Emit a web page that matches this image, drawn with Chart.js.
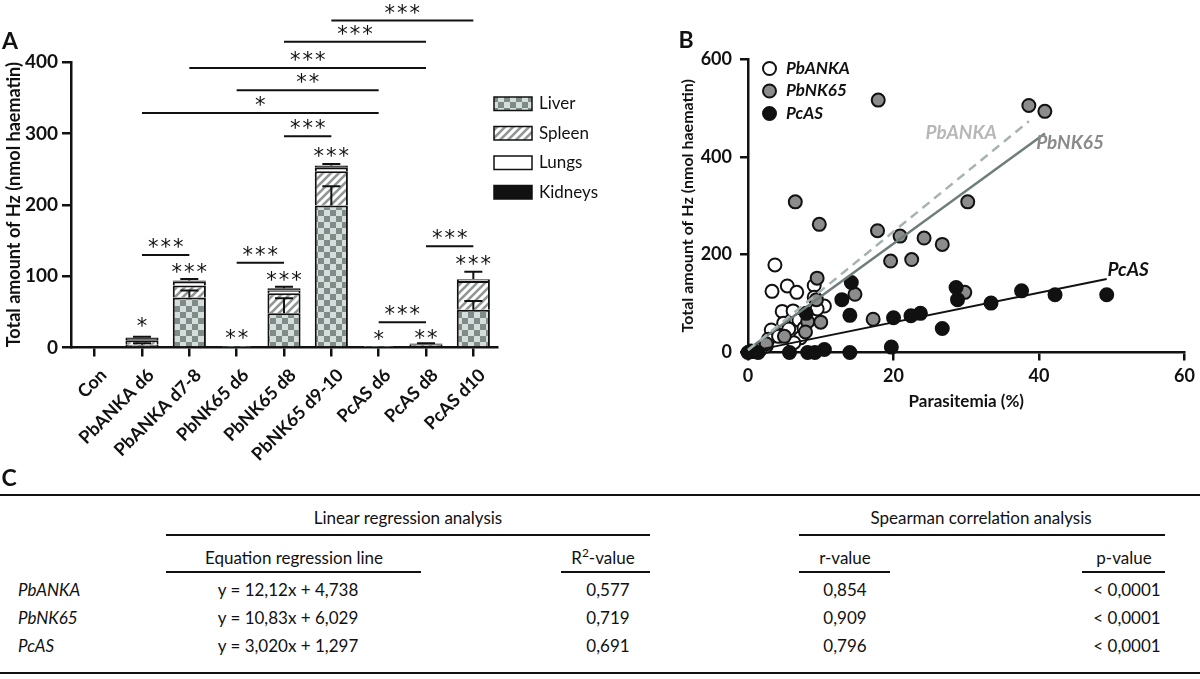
<!DOCTYPE html>
<html>
<head>
<meta charset="utf-8">
<title>Hz content and parasitemia</title>
<script src="https://cdn.jsdelivr.net/npm/chart.js@4.4.1/dist/chart.umd.min.js"></script>
<style>
  body { margin: 0; width: 1200px; height: 679px; background: #fff; position: relative; overflow: hidden;
         font-family: Lato, "Open Sans", sans-serif; color: #111; }
  #boxA { position: absolute; left: 0; top: 0; width: 660px; height: 470px; }
  #boxB { position: absolute; left: 660px; top: 0; width: 540px; height: 470px; }
  .t { position: absolute; line-height: 1; white-space: nowrap; transform: translate(-50%, -50%); font-size: 17px; }
  .l { transform: translate(0, -50%); }
  .letter { font-weight: bold; font-size: 23px; }
  .rule { position: absolute; background: #111; }
  sup { font-size: 0.7em; vertical-align: 0.55em; line-height: 0; }
</style>
</head>
<body>
<div id="boxA"><canvas id="chartA"></canvas></div>
<div id="boxB"><canvas id="chartB"></canvas></div>
<div class="t letter" style="left:10px;top:40px">A</div>
<div class="t letter" style="left:686px;top:39px">B</div>
<div class="t letter" style="left:9px;top:477px">C</div>
<div id="table"></div>

<script>
// ---- panel A : haemozoin per organ ----
const groups = ['Con', 'PbANKA d6', 'PbANKA d7-8', 'PbNK65 d6', 'PbNK65 d8', 'PbNK65 d9-10', 'PcAS d6', 'PcAS d8', 'PcAS d10'];
const organs = ['Liver', 'Spleen', 'Lungs', 'Kidneys'];
const liver   = [0, 4, 70, 0.4, 48, 199, 0.2, 2, 53];
const spleen  = [0, 6, 17, 0.3, 28, 48, 0.1, 1.5, 40];
const lungs   = [0, 2, 5, 0.2, 4, 5, 0.1, 0.5, 2];
const kidneys = [0, 2, 2, 0.3, 3, 3, 0.1, 1.5, 1];
const liverErr   = [0, 2, 10, 0, 21, 27, 0, 0, 12];
const kidneysErr = [0, 1, 2, 0, 2, 2, 0, 0.5, 10];
const yTicksA = [0, 100, 200, 300, 400];

// stars above single bars
const starText  = ['', '*', '***', '**', '***', '***', '*', '**', '***'];
const starLevel = [0, 36, 111, 19, 100, 274, 17.5, 19, 122];
// comparison brackets
const sigFrom  = [5, 4, 2, 3, 1, 4, 1, 3, 6, 7];
const sigTo    = [8, 7, 7, 6, 6, 5, 2, 4, 7, 8];
const sigText  = ['***', '***', '***', '**', '*', '***', '***', '***', '***', '***'];
const sigLevel = [458, 428.5, 391.6, 360.4, 328.6, 296, 129.5, 118.7, 35.3, 142];

// ---- panel B : Hz vs parasitemia ----
const strains = ['PbANKA', 'PbNK65', 'PcAS'];
const pbankaX = [3.7, 3.3, 5.4, 6.7, 9.1, 9.1, 10.5, 4.7, 6.2, 9.5, 4.9, 7.0, 3.2, 5.6, 7.7, 2.8, 4.2, 7.2, 2.5, 1.7, 0.5, 6.3];
const pbankaY = [179, 125, 136, 123, 137, 113, 95, 84, 85, 89, 60, 66, 46, 48, 50, 27, 33, 30, 13, 6, 2, 20];
const pbnk65X = [17.9, 38.6, 40.8, 6.5, 9.8, 30.2, 17.8, 20.9, 24.2, 26.7, 19.6, 22.5, 9.5, 14.7, 29.8, 17.2, 9.4, 8.2, 10.0, 7.9, 5.0, 2.5, 0.4];
const pbnk65Y = [516, 505, 493, 308, 262, 308, 249, 238, 234, 221, 187, 190, 152, 119, 123, 68, 108, 63, 62, 42, 33, 18, 3];
const pcasX = [0, 0.6, 1.4, 5.7, 8.2, 9.2, 10.5, 14.0, 19.7, 8.0, 12.9, 14.2, 14.0, 20.0, 22.4, 23.7, 26.7, 28.6, 28.8, 33.4, 37.6, 42.2, 49.3];
const pcasY = [0, 2, 0, 0, 0, 0, 6, 0, 11, 80, 108, 143, 76, 71, 75, 80, 49, 133, 108, 101, 126, 118, 118];
const xTicksB = [0, 20, 40, 60];
const yTicksB = [0, 200, 400, 600];

// ---- panel C : table ----
const slopeText     = ['12,12', '10,83', '3,020'];
const interceptText = ['4,738', '6,029', '1,297'];
const r2Values = ['0,577', '0,719', '0,691'];
const rValues  = ['0,854', '0,909', '0,796'];
const pValues  = ['< 0,0001', '< 0,0001', '< 0,0001'];
const lineStart = [0, 0, 0];
const lineEnd   = [38.6, 40.8, 49.3];

const num = s => parseFloat(s.replace(',', '.'));

Chart.defaults.font.family = 'Lato, "Open Sans", sans-serif';
Chart.defaults.color = '#111';
Chart.defaults.animation = false;

function makeChecker() {
  const c = document.createElement('canvas');
  c.width = c.height = 12;
  const g = c.getContext('2d');
  g.fillStyle = '#d5dedb';
  g.fillRect(0, 0, 12, 12);
  g.fillStyle = '#7e8b88';
  g.fillRect(0, 0, 6, 6);
  g.fillRect(6, 6, 6, 6);
  return g.createPattern(c, 'repeat');
}
function makeHatch() {
  const c = document.createElement('canvas');
  c.width = c.height = 8;
  const g = c.getContext('2d');
  g.fillStyle = '#fff';
  g.fillRect(0, 0, 8, 8);
  g.strokeStyle = '#8f9694';
  g.lineWidth = 2.6;
  [[-4, 4, 4, -4], [0, 8, 8, 0], [4, 12, 12, 4]].forEach(([a, b, c2, d]) => {
    g.beginPath(); g.moveTo(a, b); g.lineTo(c2, d); g.stroke();
  });
  return g.createPattern(c, 'repeat');
}
const fills = [makeChecker(), makeHatch(), '#ffffff', '#111111'];
const organData = [liver, spleen, lungs, kidneys];
const organErr = [liverErr, null, null, kidneysErr];

function drawStars(ctx, text, cx, cy) {
  ctx.font = '21px "DejaVu Sans"';
  ctx.textAlign = 'center';
  ctx.textBaseline = 'alphabetic';
  const m = ctx.measureText('*');
  const base = cy + (m.actualBoundingBoxAscent - m.actualBoundingBoxDescent) / 2;
  const n = text.length;
  for (let k = 0; k < n; k++) ctx.fillText('*', cx + (k - (n - 1) / 2) * 12.5, base);
}

const errorBars = {
  id: 'errorBars',
  afterDatasetsDraw(chart) {
    const { ctx } = chart;
    const y = chart.scales.y;
    ctx.save();
    ctx.strokeStyle = '#111';
    ctx.lineWidth = 2;
    chart.data.datasets.forEach((ds, i) => {
      if (!ds.errors) return;
      chart.getDatasetMeta(i).data.forEach((bar, j) => {
        const err = ds.errors[j];
        if (!err) return;
        let top = 0;
        for (let k = 0; k <= i; k++) top += chart.data.datasets[k].data[j];
        const y0 = y.getPixelForValue(top), y1 = y.getPixelForValue(top + err);
        ctx.beginPath();
        ctx.moveTo(bar.x, y0); ctx.lineTo(bar.x, y1);
        ctx.moveTo(bar.x - 9, y1); ctx.lineTo(bar.x + 9, y1);
        ctx.stroke();
      });
    });
    ctx.restore();
  }
};

const annotationsA = {
  id: 'annotationsA',
  afterDraw(chart) {
    const { ctx } = chart;
    const x = chart.scales.x, y = chart.scales.y;
    ctx.save();
    ctx.fillStyle = '#111';
    ctx.strokeStyle = '#111';
    ctx.lineWidth = 2;
    sigFrom.forEach((f, i) => {
      const x0 = x.getPixelForTick(f), x1 = x.getPixelForTick(sigTo[i]);
      const yy = y.getPixelForValue(sigLevel[i]);
      ctx.beginPath(); ctx.moveTo(x0, yy); ctx.lineTo(x1, yy); ctx.stroke();
      drawStars(ctx, sigText[i], (x0 + x1) / 2, yy - 12);
    });
    starText.forEach((s, j) => {
      if (s) drawStars(ctx, s, x.getPixelForTick(j), y.getPixelForValue(starLevel[j]));
    });
    // legend
    organs.forEach((name, i) => {
      const top = 97 + i * 29.5;
      ctx.fillStyle = fills[i];
      ctx.fillRect(494, top, 38, 13.5);
      ctx.lineWidth = 1.5;
      ctx.strokeRect(494, top, 38, 13.5);
      ctx.fillStyle = '#111';
      ctx.font = '17px Lato';
      ctx.textAlign = 'left';
      ctx.textBaseline = 'middle';
      ctx.fillText(name, 539, top + 7);
    });
    ctx.restore();
  }
};

new Chart(document.getElementById('chartA'), {
  type: 'bar',
  data: {
    labels: groups,
    datasets: organs.map((name, i) => ({
      label: name,
      data: organData[i],
      errors: organErr[i],
      backgroundColor: fills[i],
      borderColor: '#111',
      borderWidth: 2,
      barPercentage: 0.7,
      categoryPercentage: 1
    }))
  },
  options: {
    responsive: true,
    maintainAspectRatio: false,
    layout: { padding: { left: 0, top: 62, right: 163, bottom: 0 } },
    plugins: { legend: { display: false }, tooltip: { enabled: false } },
    scales: {
      x: {
        stacked: true,
        offset: true,
        grid: { offset: false, drawOnChartArea: false, color: '#111', lineWidth: 2.5, tickLength: 9 },
        border: { color: '#111', width: 2.5 },
        ticks: { autoSkip: false, minRotation: 45, maxRotation: 45, padding: 8, labelOffset: 9, font: { size: 18, weight: 'bold' } },
        afterFit: s => { s.height = 122.5; }
      },
      y: {
        stacked: true,
        min: 0, max: 400,
        afterBuildTicks: s => { s.ticks = yTicksA.map(v => ({ value: v })); },
        grid: { drawOnChartArea: false, color: '#111', lineWidth: 2.5, tickLength: 9 },
        border: { color: '#111', width: 2.5 },
        ticks: { padding: 4, font: { size: 19, weight: 'bold' } },
        title: { display: true, text: 'Total amount of Hz (nmol haematin)', font: { size: 18, weight: 'bold' }, padding: { top: 3, bottom: 0 } },
        afterFit: s => { s.width = 71; }
      }
    }
  },
  plugins: [errorBars, annotationsA]
});

// ---- panel B ----
const lineColors = ['#a7b3b3', '#6f7d7b', '#111111'];
const labelColors = ['#b7b7b7', '#8a8a8a', '#111111'];
const pointFills = ['#ffffff', '#8c8c8c', '#111111'];
const labelPos = [[24.4, 449], [39.6, 428.6], [49.4, 168.5]];

const pts = (xs, ys) => xs.map((x, i) => ({ x, y: ys[i] }));
const scatterSets = [[pbankaX, pbankaY], [pbnk65X, pbnk65Y], [pcasX, pcasY]].map(([xs, ys], i) => ({
  type: 'scatter',
  label: strains[i],
  data: pts(xs, ys),
  backgroundColor: pointFills[i],
  borderColor: '#111',
  borderWidth: 2,
  pointRadius: 6.5,
  clip: false,
  order: 3 - i
}));
const fitSets = strains.map((name, i) => ({
  type: 'line',
  label: name + ' regression',
  data: [lineStart[i], lineEnd[i]].map(x => ({ x, y: num(slopeText[i]) * x + num(interceptText[i]) })),
  borderColor: lineColors[i],
  borderWidth: i === 2 ? 2 : 2.5,
  borderDash: i === 0 ? [9, 6] : [],
  pointRadius: 0,
  fill: false,
  clip: false,
  order: 0
}));

const annotationsB = {
  id: 'annotationsB',
  afterDraw(chart) {
    const { ctx } = chart;
    const x = chart.scales.x, y = chart.scales.y;
    ctx.save();
    ctx.textAlign = 'left';
    ctx.textBaseline = 'middle';
    strains.forEach((name, i) => {
      // legend
      const cy = 68.5 + i * 22.5;
      ctx.beginPath();
      ctx.arc(109.5, cy, 6.5, 0, Math.PI * 2);
      ctx.fillStyle = pointFills[i];
      ctx.fill();
      ctx.lineWidth = 2;
      ctx.strokeStyle = '#111';
      ctx.stroke();
      ctx.fillStyle = '#111';
      ctx.font = 'italic bold 17px Lato';
      ctx.fillText(name, 126, cy);
      // line labels
      ctx.fillStyle = labelColors[i];
      ctx.font = 'italic bold 19px Lato';
      ctx.fillText(name, x.getPixelForValue(labelPos[i][0]), y.getPixelForValue(labelPos[i][1]));
    });
    ctx.restore();
  }
};

new Chart(document.getElementById('chartB'), {
  type: 'scatter',
  data: { datasets: [...fitSets, ...scatterSets] },
  options: {
    responsive: true,
    maintainAspectRatio: false,
    layout: { padding: { left: 14, top: 59, right: 11, bottom: 58 } },
    plugins: { legend: { display: false }, tooltip: { enabled: false } },
    scales: {
      x: {
        type: 'linear', min: 0, max: 60,
        afterBuildTicks: s => { s.ticks = xTicksB.map(v => ({ value: v })); },
        grid: { drawOnChartArea: false, color: '#111', lineWidth: 2.5, tickLength: 8 },
        border: { color: '#111', width: 2.5 },
        ticks: { padding: 5, font: { size: 18, weight: 'bold' } },
        title: { display: true, text: 'Parasitemia (%)', font: { size: 17, weight: 'bold' }, padding: { top: 6, bottom: 0 } },
        afterFit: s => { s.height = 59.5; }
      },
      y: {
        type: 'linear', min: 0, max: 600,
        afterBuildTicks: s => { s.ticks = yTicksB.map(v => ({ value: v })); },
        grid: { drawOnChartArea: false, color: '#111', lineWidth: 2.5, tickLength: 8 },
        border: { color: '#111', width: 2.5 },
        ticks: { padding: 8, font: { size: 18, weight: 'bold' } },
        title: { display: true, text: 'Total amount of Hz (nmol haematin)', font: { size: 16, weight: 'bold' }, padding: { top: 4, bottom: 0 } },
        afterFit: s => { s.width = 74; }
      }
    }
  },
  plugins: [annotationsB]
});

// ---- panel C : regression table ----
const table = document.getElementById('table');
function text(html, x, y, cls) {
  const d = document.createElement('div');
  d.className = 't' + (cls ? ' ' + cls : '');
  d.style.left = x + 'px';
  d.style.top = y + 'px';
  d.innerHTML = html;
  table.appendChild(d);
}
function rule(x0, x1, y, w) {
  const d = document.createElement('div');
  d.className = 'rule';
  d.style.left = x0 + 'px';
  d.style.width = (x1 - x0) + 'px';
  d.style.top = (y - w / 2) + 'px';
  d.style.height = w + 'px';
  table.appendChild(d);
}
rule(0, 1200, 495, 2.5);
rule(0, 1200, 673, 2.5);
text('Linear regression analysis', 408, 517);
rule(166, 650, 535, 2);
text('Spearman correlation analysis', 981, 517);
rule(799, 1165, 535, 2);
text('Equation regression line', 294, 557);
rule(166, 421, 572, 2);
text('R<sup>2</sup>-value', 603, 557);
rule(561, 650, 572, 2);
text('r-value', 845, 557);
rule(799, 890, 572, 2);
text('p-value', 1124, 557);
rule(1082, 1165, 572, 2);
strains.forEach((name, i) => {
  const yy = 589 + i * 28;
  text('<i>' + name + '</i>', 18, yy, 'l');
  text('y = ' + slopeText[i] + 'x + ' + interceptText[i], 288, yy);
  text(r2Values[i], 608, yy);
  text(rValues[i], 845, yy);
  text(pValues[i], 1127, yy);
});
</script>
</body>
</html>
